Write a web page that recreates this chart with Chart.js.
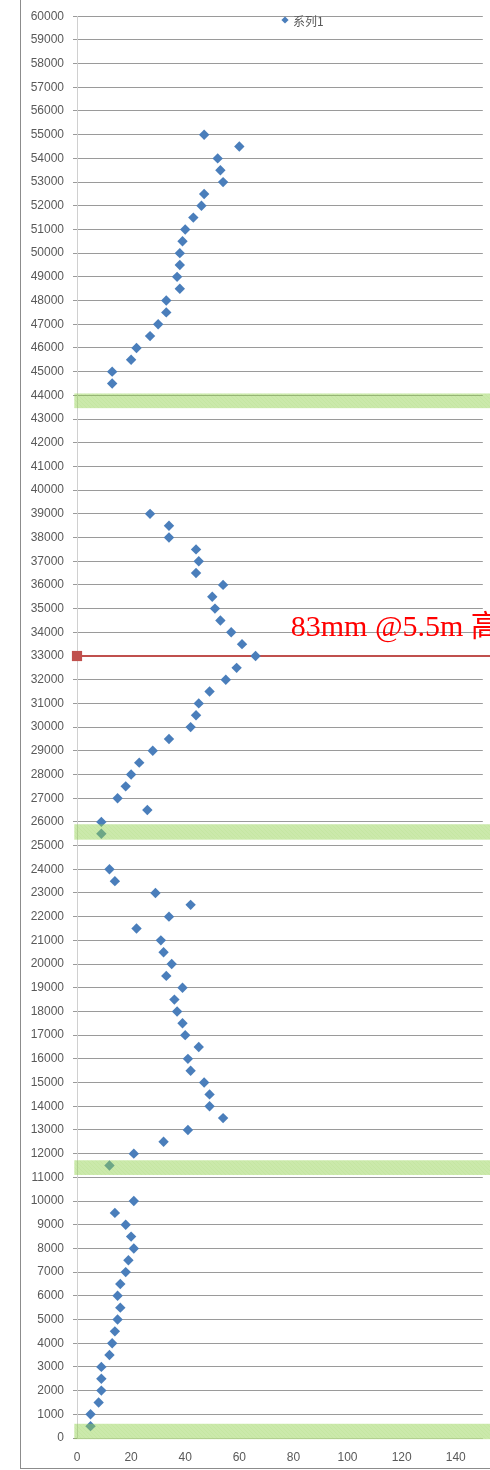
<!DOCTYPE html>
<html>
<head>
<meta charset="utf-8">
<script src="https://cdn.jsdelivr.net/npm/chart.js@4.4.1/dist/chart.umd.min.js"></script>
<style>
  html, body { margin: 0; padding: 0; background: #fff; }
  #wrap { position: relative; width: 490px; height: 1470px; overflow: hidden; }
  #frame { position: absolute; left: 20px; top: -2px; width: 480px; height: 1470px;
           border-left: 1px solid #8c8c8c; border-bottom: 1px solid #8c8c8c; }
  canvas { position: absolute; left: 0; top: 0; }
</style>
</head>
<body>
<div id="wrap">
  <div id="frame"></div>
  <canvas id="c" width="490" height="1470"></canvas>
</div>
<script>
// Depth (mm) of each reading, bottom to top
const depths = [
  500, 1000, 1500, 2000, 2500, 3000, 3500, 4000, 4500, 5000,
  5500, 6000, 6500, 7000, 7500, 8000, 8500, 9000, 9500, 10000,
  11500, 12000, 12500, 13000, 13500, 14000, 14500, 15000, 15500, 16000,
  16500, 17000, 17500, 18000, 18500, 19000, 19500, 20000, 20500, 21000,
  21500, 22000, 22500, 23000, 23500, 24000,
  25500, 26000, 26500, 27000, 27500, 28000, 28500, 29000, 29500, 30000,
  30500, 31000, 31500, 32000, 32500, 33000, 33500, 34000, 34500, 35000,
  35500, 36000, 36500, 37000, 37500, 38000, 38500, 39000,
  44500, 45000, 45500, 46000, 46500, 47000, 47500, 48000, 48500, 49000,
  49500, 50000, 50500, 51000, 51500, 52000, 52500, 53000, 53500, 54000,
  54500, 55000
];
// Measured value at each depth
const readings = [
  5, 5, 8, 9, 9, 9, 12, 13, 14, 15,
  16, 15, 16, 18, 19, 21, 20, 18, 14, 21,
  12, 21, 32, 41, 54, 49, 49, 47, 42, 41,
  45, 40, 39, 37, 36, 39, 33, 35, 32, 31,
  22, 34, 42, 29, 14, 12,
  9, 9, 26, 15, 18, 20, 23, 28, 34, 42,
  44, 45, 49, 55, 59, 66, 61, 57, 53, 51,
  50, 54, 44, 45, 44, 34, 34, 27,
  13, 13, 20, 22, 27, 30, 33, 33, 38, 37,
  38, 38, 39, 40, 43, 46, 47, 54, 53, 52,
  60, 47
];
const seriesName = '系列1';

// Horizontal reference line
const refX = [0, 155];
const refY = [33000, 33000];
const refNote = '83mm @5.5m 高';

// Highlighted depth bands [from, to]
const bands = [[-50, 600], [11100, 11720], [25250, 25900], [43460, 44080]];

// Axis settings
const yMin = 0, yMax = 60000, yStep = 1000;
const xMin = 0, xMax = 150, xStep = 20;

const points = depths.map((d, i) => ({ x: readings[i], y: d }));
const refPoints = refX.map((v, i) => ({ x: v, y: refY[i] }));

// Light green hatched fill for the bands
function bandPattern(ctx) {
  const p = document.createElement('canvas');
  p.width = 4; p.height = 4;
  const g = p.getContext('2d');
  g.fillStyle = 'rgba(146,208,80,0.48)';
  g.fillRect(0, 0, 4, 4);
  g.fillStyle = 'rgba(146,208,80,0.10)';
  for (let i = 0; i < 4; i++) g.fillRect(i, (i + 1) % 4, 1, 1);
  return ctx.createPattern(p, 'repeat');
}

const overlay = {
  id: 'overlay',
  afterDatasetsDraw(chart) {
    const { ctx, scales: { x, y } } = chart;
    ctx.save();
    ctx.fillStyle = bandPattern(ctx);
    const left = x.getPixelForValue(-1);
    bands.forEach(([lo, hi]) => {
      const top = y.getPixelForValue(hi);
      const bottom = y.getPixelForValue(lo);
      ctx.fillRect(left, top, chart.width - left, bottom - top);
    });

    // note above the reference line
    ctx.fillStyle = '#ff0000';
    ctx.font = '30px "Liberation Serif", "Noto Sans CJK SC", serif';
    ctx.textBaseline = 'alphabetic';
    ctx.textAlign = 'left';
    ctx.fillText(refNote, x.getPixelForValue(79), y.getPixelForValue(33850));

    // legend entry
    const lx = 285, ly = 20, r = 3.6;
    ctx.fillStyle = '#4a7ebb';
    ctx.beginPath();
    ctx.moveTo(lx - r, ly); ctx.lineTo(lx, ly - r);
    ctx.lineTo(lx + r, ly); ctx.lineTo(lx, ly + r);
    ctx.closePath(); ctx.fill();
    ctx.fillStyle = '#595959';
    ctx.font = '12px "Noto Sans CJK SC", "Liberation Sans", sans-serif';
    ctx.textBaseline = 'middle';
    ctx.fillText(seriesName, lx + 8, ly + 1);
    ctx.restore();
  }
};

const tickFont = { family: '"Liberation Sans", Arial, sans-serif', size: 12 };

new Chart(document.getElementById('c'), {
  type: 'scatter',
  data: {
    datasets: [
      {
        label: seriesName,
        data: points,
        pointStyle: 'rectRot',
        pointRadius: 5.2,
        pointHoverRadius: 5.2,
        backgroundColor: '#4a7ebb',
        borderWidth: 0
      },
      {
        label: 'ref',
        data: refPoints,
        showLine: true,
        borderColor: '#c0504d',
        borderWidth: 2,
        backgroundColor: '#c0504d',
        pointStyle: 'rect',
        pointRadius: [7.2, 0],
        pointHoverRadius: [7.2, 0],
        pointBorderWidth: 0,
        clip: false
      }
    ]
  },
  options: {
    responsive: false,
    animation: false,
    devicePixelRatio: 1,
    layout: { padding: { top: 15, right: 3, left: 0, bottom: 0 } },
    plugins: { legend: { display: false }, tooltip: { enabled: false } },
    scales: {
      x: {
        type: 'linear',
        min: xMin, max: xMax,
        ticks: { stepSize: xStep, includeBounds: false, color: '#595959', font: tickFont, padding: 12, maxRotation: 0 },
        grid: { display: true, drawOnChartArea: false, drawTicks: false },
        border: { color: '#d0d0d0', width: 1 },
        afterFit(s) { s.height = 32; }
      },
      y: {
        type: 'linear',
        min: yMin, max: yMax,
        ticks: { stepSize: yStep, autoSkip: false, color: '#595959', font: tickFont, padding: 9,
                 callback: v => String(v) },
        grid: { color: '#9a9a9a', lineWidth: 1, tickLength: 4 },
        border: { color: '#d0d0d0', width: 1 },
        afterFit(s) { s.width = 77; }
      }
    }
  },
  plugins: [overlay]
});
</script>
</body>
</html>
